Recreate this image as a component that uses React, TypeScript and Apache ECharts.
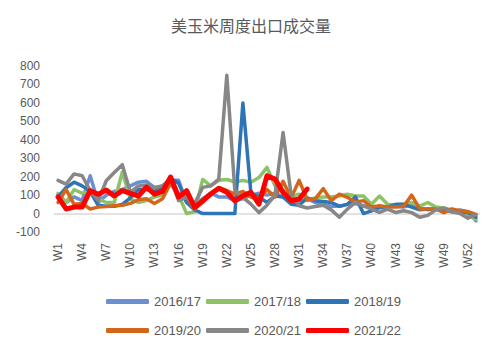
import React, { useEffect, useRef } from "react";
import * as echarts from "echarts";

const weeks: string[] = Array.from({ length: 53 }, (_, i) => "W" + (i + 1));
const seasons: string[] = ["2016/17", "2017/18", "2018/19", "2019/20", "2020/21", "2021/22"];
const colors: string[] = ["#6B90D2", "#8DC266", "#2E75B6", "#D4661A", "#878787", "#FF0000"];

const s1617: number[] = [105, 60, 90, 70, 205, 60, 100, 120, 130, 150, 170, 175, 140, 150, 180, 180, 60, 50, 80, 110, 90, 90, 70, 80, 100, 110, 100, 110, 90, 70, 70, 80, 60, 50, 40, 40, 50, 55, 40, 40, 30, 40, 40, 35, 50, 30, 20, 30, 20, 10, 20, 10, -40];
const s1718: number[] = [110, 60, 130, 110, 130, 80, 60, 60, 225, 80, 60, 70, 90, 100, 160, 100, 0, 10, 185, 150, 180, 185, 170, 180, 170, 195, 250, 150, 125, 90, 105, 70, 85, 90, 90, 95, 105, 95, 95, 50, 95, 50, 45, 50, 60, 40, 60, 35, 30, 20, 10, -10, -30];
const s1819: number[] = [90, 140, 170, 150, 120, 45, 40, 40, 50, 85, 130, 130, 120, 140, 190, 165, 60, 20, 0, 0, 0, 0, 0, 600, 110, 90, 60, 95, 90, 50, 45, 85, 70, 65, 60, 40, 50, 90, 0, 15, 35, 35, 50, 50, 35, 20, 25, 20, 25, 10, 10, 5, -20];
const s1920: number[] = [60, 130, 50, 55, 25, 35, 38, 42, 45, 55, 75, 80, 55, 80, 165, 105, 88, 25, 60, 110, 140, 125, 105, 120, 90, 80, 130, 90, 175, 85, 180, 75, 80, 135, 70, 105, 88, 62, 70, 35, 42, 35, 35, 40, 100, 25, 25, 25, 5, 25, 15, 10, -5];
const s2021: number[] = [180, 160, 215, 205, 125, 70, 178, 223, 265, 115, 150, 155, 140, 150, 190, 70, 88, 55, 142, 150, 187, 750, 124, 88, 51, 5, 45, 100, 440, 100, 42, 30, 38, 45, 20, -20, 24, 60, 42, 24, 6, 24, 6, 15, 5, -20, -10, 20, 30, 10, 0, -25, -5];
const s2122: number[] = [90, 25, 35, 35, 124, 105, 127, 95, 124, 110, 95, 143, 105, 120, 198, 90, 124, 34, 69, 106, 137, 115, 69, 96, 115, 51, 205, 187, 115, 69, 79, 133];

const seriesData: number[][] = [s1617, s1718, s1819, s1920, s2021, s2122];

const FONT = '"Liberation Sans", "Noto Sans CJK SC", sans-serif';

export default function App() {
  const ref = useRef<HTMLDivElement>(null);
  useEffect(() => {
    if (!ref.current) return;
    const chart = echarts.init(ref.current, undefined, { renderer: "svg" });
    const legendBase = {
      icon: "roundRect",
      itemWidth: 43,
      itemHeight: 5,
      itemGap: 5,
      padding: 0,
      textStyle: { color: "#595959", fontSize: 13, fontFamily: FONT, width: 47 },
      left: 106,
    };
    chart.setOption({
      animation: false,
      color: colors,
      title: {
        text: "美玉米周度出口成交量",
        left: "center",
        top: 13,
        textStyle: { color: "#595959", fontSize: 16, fontWeight: "normal", fontFamily: FONT },
      },
      legend: [
        { ...legendBase, top: 295, data: seasons.slice(0, 3) },
        { ...legendBase, top: 324, data: seasons.slice(3, 6) },
      ],
      grid: { left: 54, right: 22, top: 66, height: 166 },
      xAxis: {
        type: "category",
        data: weeks,
        boundaryGap: true,
        axisLine: { show: false, onZero: false },
        axisTick: { show: false },
        axisLabel: { rotate: 90, interval: 2, color: "#595959", fontSize: 12, fontFamily: FONT, margin: 11 },
      },
      yAxis: {
        type: "value",
        min: -100,
        max: 800,
        interval: 100,
        splitLine: { show: false },
        axisLine: { show: false },
        axisTick: { show: false },
        axisLabel: { color: "#595959", fontSize: 12, fontFamily: FONT, margin: 14 },
      },
      series: seasons.map((name, i) => ({
        name,
        type: "line",
        data: seriesData[i],
        symbol: "none",
        showSymbol: false,
        z: 2 + i,
        lineStyle: { width: i === 5 ? 5 : 3.5, color: colors[i], cap: "round", join: "round" },
        itemStyle: { color: colors[i] },
        markLine:
          i === 0
            ? {
                silent: true,
                symbol: "none",
                label: { show: false },
                lineStyle: { color: "#D9D9D9", width: 1.5, type: "solid" },
                data: [{ yAxis: 0 }],
                z: 1,
              }
            : undefined,
      })),
    });
    return () => chart.dispose();
  }, []);
  return (
    <div
      ref={ref}
      style={{ width: 502, height: 354, position: "fixed", left: 0, top: 0, background: "#fff" }}
    />
  );
}
